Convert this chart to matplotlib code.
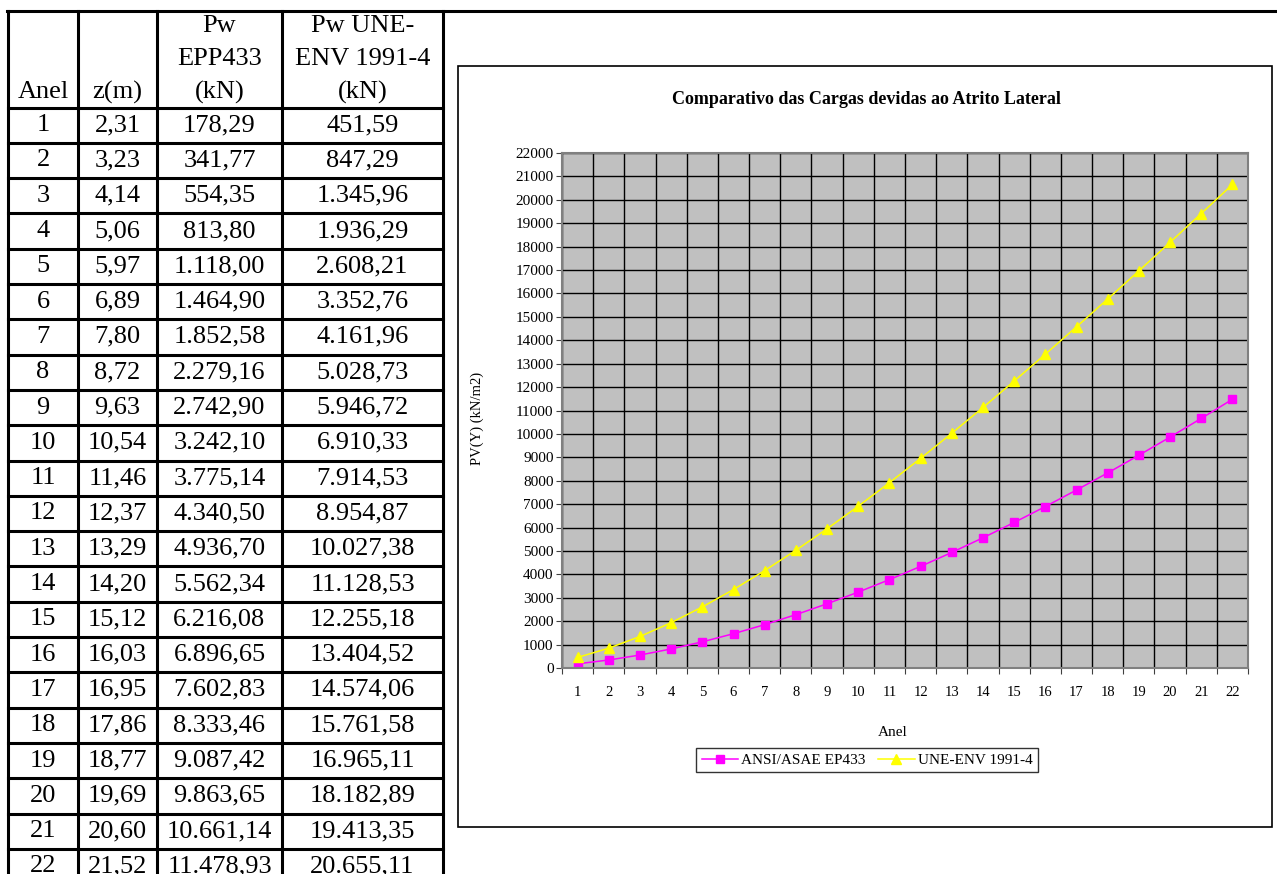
import matplotlib.pyplot as plt
from matplotlib.lines import Line2D
from matplotlib.patches import Rectangle

plt.rcParams['font.family'] = ['Liberation Serif', 'DejaVu Serif']

# dados da tabela
anel = list(range(1, 23))
z_m = [2.31, 3.23, 4.14, 5.06, 5.97, 6.89, 7.80, 8.72, 9.63, 10.54, 11.46,
       12.37, 13.29, 14.20, 15.12, 16.03, 16.95, 17.86, 18.77, 19.69, 20.60, 21.52]
pw_ep433 = [178.29, 341.77, 554.35, 813.80, 1118.00, 1464.90, 1852.58, 2279.16,
            2742.90, 3242.10, 3775.14, 4340.50, 4936.70, 5562.34, 6216.08,
            6896.65, 7602.83, 8333.46, 9087.42, 9863.65, 10661.14, 11478.93]
pw_une = [451.59, 847.29, 1345.96, 1936.29, 2608.21, 3352.76, 4161.96, 5028.73,
          5946.72, 6910.33, 7914.53, 8954.87, 10027.38, 11128.53, 12255.18,
          13404.52, 14574.06, 15761.58, 16965.11, 18182.89, 19413.35, 20655.11]
y_ticks = list(range(0, 22001, 1000))


def br(v):
    # formato brasileiro: 1.234,56
    s = f"{v:,.2f}"
    return s.replace(',', '#').replace('.', ',').replace('#', '.')


W, H = 1277, 874
fig = plt.figure(figsize=(W / 100, H / 100), dpi=100)

# eixo de fundo em pixels para a tabela e a moldura do grafico
bg = fig.add_axes([0, 0, 1, 1])
bg.set_xlim(0, W)
bg.set_ylim(H, 0)
bg.axis('off')

lw = 2.2
col_x = [8, 78, 157, 282, 443]
top = 10.5
head_bot = 107.5
row_h = 35.3

bg.add_line(Line2D([col_x[0] - 1, W], [top, top], color='black', lw=lw))
for cx in col_x:
    bg.add_line(Line2D([cx, cx], [top, H + 5], color='black', lw=lw))
for i in range(len(anel)):
    yy = head_bot + i * row_h
    bg.add_line(Line2D([col_x[0], col_x[-1]], [yy, yy], color='black', lw=lw))

centers = [(col_x[k] + col_x[k + 1]) / 2 for k in range(4)]
fs = 19
bg.text(centers[0], 92, 'Anel', ha='center', va='center', fontsize=fs)
bg.text(centers[1], 92, 'z(m)', ha='center', va='center', fontsize=fs)
for k, lines in ((2, ['Pw', 'EPP433', '(kN)']), (3, ['Pw UNE-', 'ENV 1991-4', '(kN)'])):
    for j, t in enumerate(lines):
        bg.text(centers[k], 26 + j * 33, t, ha='center', va='center', fontsize=fs)

for i in range(len(anel)):
    yc = head_bot + (i + 0.5) * row_h
    vals = [str(anel[i]), f"{z_m[i]:.2f}".replace('.', ','), br(pw_ep433[i]), br(pw_une[i])]
    for k, t in enumerate(vals):
        bg.text(centers[k], yc, t, ha='center', va='center', fontsize=fs)

# moldura do grafico
bg.add_patch(Rectangle((458, 66), 1272 - 458, 827 - 66, fill=False,
                       edgecolor='black', lw=1.2))

# area do grafico
x0, x1, y0, y1 = 562, 1248, 153, 668
ax = fig.add_axes([x0 / W, (H - y1) / H, (x1 - x0) / W, (y1 - y0) / H])
ax.set_facecolor('#C0C0C0')
ax.set_xlim(0.5, 22.5)
ax.set_ylim(0, 22000)

ax.plot(anel, pw_ep433, color='#FF00FF', marker='s', markersize=5.5, lw=1.1,
        label='ANSI/ASAE EP433')
ax.plot(anel, pw_une, color='#FFFF00', marker='^', markersize=6.5, lw=1.1,
        label='UNE-ENV 1991-4')

ax.set_yticks(y_ticks)
ax.set_yticklabels([str(v) for v in y_ticks], fontsize=11)
ax.set_xticks([a - 0.5 for a in anel] + [22.5])
ax.set_xticklabels([])
ax.set_xticks(anel, minor=True)
ax.set_xticklabels([str(a) for a in anel], minor=True, fontsize=10.5)
ax.tick_params(axis='x', which='major', direction='out', length=4, color='#404040')
ax.tick_params(axis='x', which='minor', length=0, pad=13)
ax.tick_params(axis='y', direction='out', length=4, color='#404040', pad=2)
ax.grid(True, which='major', color='black', lw=1)
ax.set_axisbelow(True)
for s in ax.spines.values():
    s.set_color('#808080')
    s.set_linewidth(1.5)

fig.text(866 / W, 1 - 99 / H, 'Comparativo das Cargas devidas ao Atrito Lateral',
         ha='center', va='center', fontsize=13, fontweight='bold')
fig.text(893 / W, 1 - 732 / H, 'Anel', ha='center', va='center', fontsize=11)
fig.text(477 / W, 1 - 418 / H, 'PV(Y) (kN/m2)', ha='center', va='center',
         rotation=90, fontsize=10.5)

leg = fig.legend(loc='center', bbox_to_anchor=(867 / W, 1 - 760 / H), ncol=2,
                 fontsize=11, frameon=True, fancybox=False, edgecolor='black',
                 handlelength=2.4, columnspacing=0.8, handletextpad=0.2,
                 borderpad=0.35)
leg.get_frame().set_linewidth(1)

fig.savefig('out.png', dpi=100)
